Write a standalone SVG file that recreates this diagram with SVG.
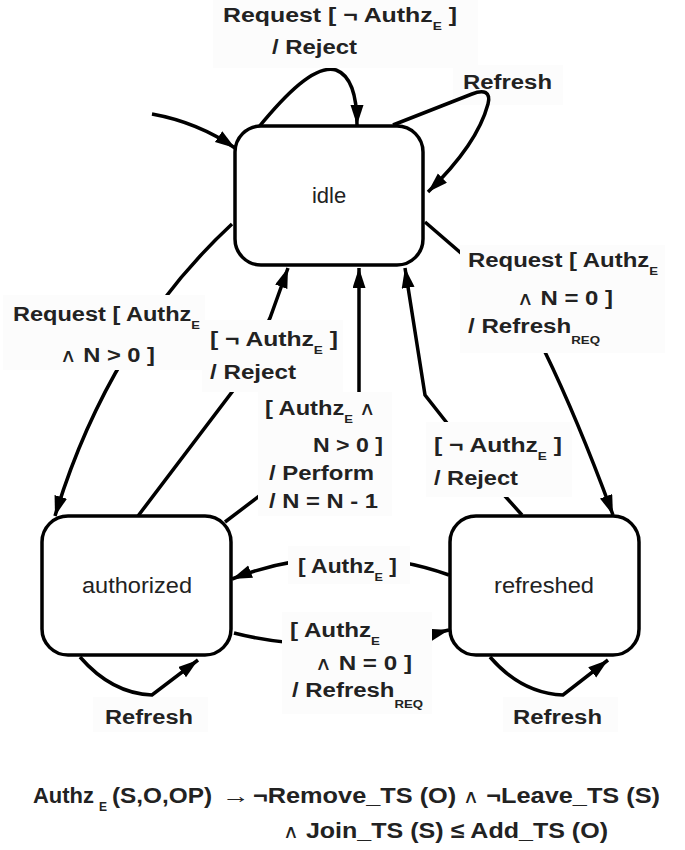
<svg xmlns="http://www.w3.org/2000/svg" width="685" height="850" viewBox="0 0 685 850">
  <defs>
    <marker id="arrow" markerUnits="userSpaceOnUse" markerWidth="22" markerHeight="14" refX="20" refY="6.5" orient="auto">
      <path d="M0,0 L20,6.5 L0,13 Z" fill="#000"/>
    </marker>
  </defs>
  <style>
    .state { fill: #fff; stroke: #000; stroke-width: 3.5; }
    .name { font-family: "Liberation Sans", Arial, sans-serif; font-size: 22px; fill: #222; text-anchor: middle; }
    .edge { fill: none; stroke: #000; stroke-width: 3.5; }
    .arr { marker-end: url(#arrow); }
    .bg { fill: #fcfcfc; }
    .lbl { font-family: "Liberation Sans", Arial, sans-serif; font-weight: bold; font-size: 20px; fill: #222; }
    .sub { font-size: 11px; }
    .and { font-weight: normal; font-size: 19px; }
    .formula { font-family: "Liberation Sans", Arial, sans-serif; font-weight: bold; font-size: 22px; fill: #222; }
    .fsub { font-size: 12px; }
  </style>

  <rect width="685" height="850" fill="#fff"/>

  <!-- the Refresh loop on idle passes over its own label, so this label sits underneath -->
  <g id="label-idle-refresh">
    <rect class="bg" x="453" y="65" width="110" height="40"/>
    <text class="lbl" x="463" y="89" textLength="89" lengthAdjust="spacingAndGlyphs">Refresh</text>
  </g>

  <!-- transitions -->
  <g id="connectors">
    <!-- initial transition into idle -->
    <path class="edge arr" d="M152,114 C185,120 212,132 235,148"/>
    <!-- idle self-loop: Request [not Authz] / Reject -->
    <path class="edge arr" d="M258,128 C285,95 315,64 336,70 C352,76 357,100 357,125"/>
    <!-- idle self-loop: Refresh -->
    <path class="edge arr" d="M393,125 L472,94 C484,89 491,92 488,104 C480,134 455,166 428,192"/>
    <!-- idle to authorized -->
    <path class="edge arr" d="M232,224 C150,300 90,400 55,516"/>
    <!-- authorized to idle: reject -->
    <path class="edge arr" d="M138,516 L235,388 L270,318 L288,268"/>
    <!-- authorized to idle: perform -->
    <path class="edge arr" d="M225,522 L262,494 L359,400 L359,268"/>
    <!-- refreshed to idle: reject -->
    <path class="edge arr" d="M522,515 L505,496 L447,423 L425,395 L405,268"/>
    <!-- idle to refreshed -->
    <path class="edge arr" d="M425,222 L462,254 L545,352 Q578,420 613,515"/>
    <!-- refreshed to authorized -->
    <path class="edge arr" d="M449,575 C380,550 300,552 232,579"/>
    <!-- authorized to refreshed -->
    <path class="edge arr" d="M234,633 C300,650 380,648 449,630"/>
    <!-- authorized self-loop: Refresh -->
    <path class="edge arr" d="M80,657 C100,680 125,694 152,695 L198,660"/>
    <!-- refreshed self-loop: Refresh -->
    <path class="edge arr" d="M490,657 C510,680 535,694 563,695 L608,660"/>
  </g>

  <!-- transition labels (their backgrounds break the lines they sit on) -->
  <g id="labels">
    <rect class="bg" x="213" y="0" width="265" height="68"/>
    <text class="lbl" x="223" y="22" textLength="234" lengthAdjust="spacingAndGlyphs">Request [ ¬ Authz<tspan class="sub" dy="8">E</tspan><tspan dy="-8"> ]</tspan></text>
    <text class="lbl" x="272" y="54" textLength="85" lengthAdjust="spacingAndGlyphs">/ Reject</text>

    <rect class="bg" x="3" y="295" width="202" height="75"/>
    <text class="lbl" x="13" y="321" textLength="187" lengthAdjust="spacingAndGlyphs">Request [ Authz<tspan class="sub" dy="8">E</tspan></text>
    <text class="lbl" x="60" y="362" textLength="95" lengthAdjust="spacingAndGlyphs"><tspan class="and">∧</tspan> N &gt; 0 ]</text>

    <rect class="bg" x="202" y="320" width="141" height="72"/>
    <text class="lbl" x="210" y="346" textLength="128" lengthAdjust="spacingAndGlyphs">[ ¬ Authz<tspan class="sub" dy="8">E</tspan><tspan dy="-8"> ]</tspan></text>
    <text class="lbl" x="210" y="379" textLength="86" lengthAdjust="spacingAndGlyphs">/ Reject</text>

    <rect class="bg" x="258" y="392" width="134" height="124"/>
    <text class="lbl" x="265" y="415" textLength="111" lengthAdjust="spacingAndGlyphs">[ Authz<tspan class="sub" dy="8">E</tspan><tspan dy="-8"> </tspan><tspan class="and">∧</tspan></text>
    <text class="lbl" x="313" y="452" textLength="70" lengthAdjust="spacingAndGlyphs">N &gt; 0 ]</text>
    <text class="lbl" x="269" y="480" textLength="105" lengthAdjust="spacingAndGlyphs">/ Perform</text>
    <text class="lbl" x="269" y="508" textLength="109" lengthAdjust="spacingAndGlyphs">/ N = N - 1</text>

    <rect class="bg" x="426" y="422" width="146" height="75"/>
    <text class="lbl" x="434" y="452" textLength="128" lengthAdjust="spacingAndGlyphs">[ ¬ Authz<tspan class="sub" dy="8">E</tspan><tspan dy="-8"> ]</tspan></text>
    <text class="lbl" x="434" y="485" textLength="84" lengthAdjust="spacingAndGlyphs">/ Reject</text>

    <rect class="bg" x="460" y="245" width="205" height="108"/>
    <text class="lbl" x="468" y="267" textLength="190" lengthAdjust="spacingAndGlyphs">Request [ Authz<tspan class="sub" dy="8">E</tspan></text>
    <text class="lbl" x="517" y="305" textLength="96" lengthAdjust="spacingAndGlyphs"><tspan class="and">∧</tspan> N = 0 ]</text>
    <text class="lbl" x="468" y="333" textLength="132" lengthAdjust="spacingAndGlyphs">/ Refresh<tspan class="sub" dy="11">REQ</tspan></text>

    <rect class="bg" x="288" y="546" width="122" height="38"/>
    <text class="lbl" x="298" y="573" textLength="99" lengthAdjust="spacingAndGlyphs">[ Authz<tspan class="sub" dy="8">E</tspan><tspan dy="-8"> ]</tspan></text>

    <rect class="bg" x="282" y="612" width="150" height="102"/>
    <text class="lbl" x="290" y="637" textLength="90" lengthAdjust="spacingAndGlyphs">[ Authz<tspan class="sub" dy="8">E</tspan></text>
    <text class="lbl" x="315" y="670" textLength="97" lengthAdjust="spacingAndGlyphs"><tspan class="and">∧</tspan> N = 0 ]</text>
    <text class="lbl" x="292" y="697" textLength="131" lengthAdjust="spacingAndGlyphs">/ Refresh<tspan class="sub" dy="11">REQ</tspan></text>

    <rect class="bg" x="93" y="697" width="115" height="35"/>
    <text class="lbl" x="105" y="724" textLength="88" lengthAdjust="spacingAndGlyphs">Refresh</text>

    <rect class="bg" x="503" y="697" width="115" height="35"/>
    <text class="lbl" x="513" y="724" textLength="89" lengthAdjust="spacingAndGlyphs">Refresh</text>
  </g>

  <!-- states -->
  <g id="idle">
    <rect class="state" x="235" y="126" width="188" height="139" rx="26"/>
    <text class="name" x="329" y="203">idle</text>
  </g>
  <g id="authorized">
    <rect class="state" x="42" y="516" width="189" height="139" rx="26"/>
    <text class="name" x="137" y="593" textLength="110" lengthAdjust="spacingAndGlyphs">authorized</text>
  </g>
  <g id="refreshed">
    <rect class="state" x="450" y="516" width="189" height="139" rx="26"/>
    <text class="name" x="544" y="593" textLength="100" lengthAdjust="spacingAndGlyphs">refreshed</text>
  </g>

  <!-- definition of Authz_E -->
  <g id="formula">
    <text class="formula" x="33" y="803" textLength="61" lengthAdjust="spacingAndGlyphs">Authz</text>
    <text class="formula fsub" x="99" y="811">E</text>
    <text class="formula" x="112" y="803" textLength="100" lengthAdjust="spacingAndGlyphs">(S,O,OP)</text>
    <text class="formula" x="222" y="803" textLength="28" lengthAdjust="spacingAndGlyphs">→</text>
    <text class="formula" x="253" y="803" textLength="407" lengthAdjust="spacingAndGlyphs">¬Remove_TS (O) <tspan class="and">∧</tspan> ¬Leave_TS (S)</text>
    <text class="formula" x="283" y="838" textLength="325" lengthAdjust="spacingAndGlyphs"><tspan class="and">∧</tspan> Join_TS (S) ≤ Add_TS (O)</text>
  </g>
</svg>
